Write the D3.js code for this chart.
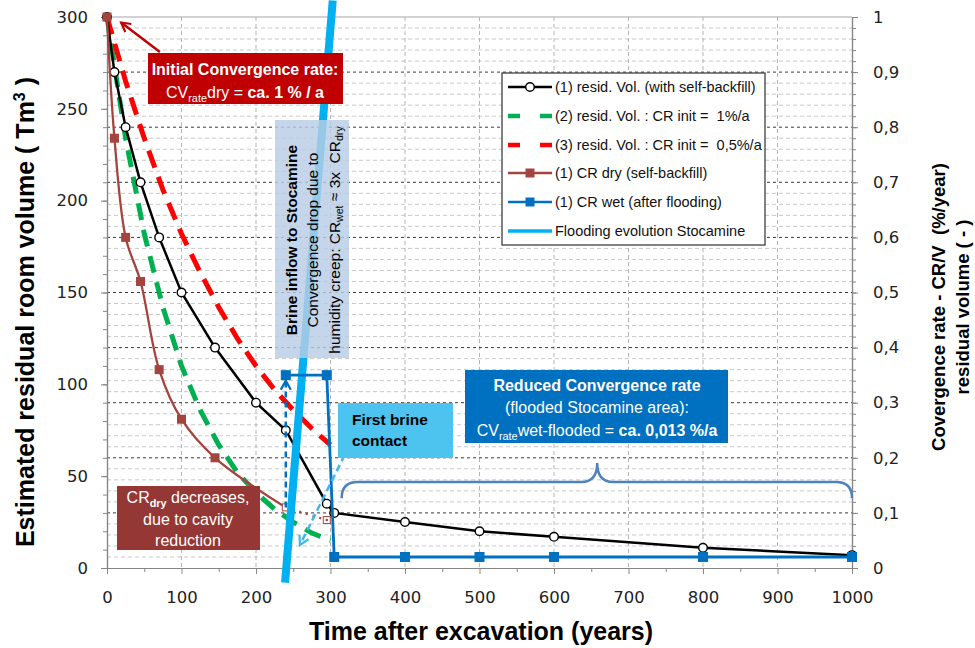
<!DOCTYPE html>
<html><head><meta charset="utf-8">
<script src="https://cdn.jsdelivr.net/npm/d3@7"></script>
<style>body{margin:0;background:#fff}svg{display:block}</style>
</head><body><svg id="c" width="975" height="648"></svg>
<script>
// ---------------- data ----------------
const xTickValues = [0,100,200,300,400,500,600,700,800,900,1000];
const leftTickValues = [0,50,100,150,200,250,300];
const rightTickValues = [0,0.1,0.2,0.3,0.4,0.5,0.6,0.7,0.8,0.9,1];
const rightTickLabels = ["0","0,1","0,2","0,3","0,4","0,5","0,6","0,7","0,8","0,9","1"];

// (1) residual volume with self-backfill (Tm3, left axis)
const volYears  = [0,10,25,45,70,100,145,200,240,295,305,400,500,600,800,1000];
const volValues = [300,270,240,210,180,150,120,90,75,35,30,25,20,17,11,7];
// (2) residual volume, CR init 1%/a (left axis)
const cr1Years  = [0,25,50,75,100,125,150,175,200,225,250,275,300];
const cr1Values = [300,234,182,142,110,86,67,52,41,32,25,19,15];
// (3) residual volume, CR init 0.5%/a (left axis)
const cr05Years  = [0,25,50,75,100,125,150,175,200,225,250,275,300];
const cr05Values = [300,265,234,206,182,161,142,125,110,97,86,76,67];
// (1) CR dry (right axis, %/year)
const crDryYears  = [0,10,25,45,70,100,145,240];
const crDryValues = [1.0,0.78,0.60,0.52,0.36,0.27,0.20,0.11];
const crDryTailYears  = [240,295];
const crDryTailValues = [0.11,0.087];
// (1) CR wet (right axis)
const crWetYears  = [240,295,305,400,500,600,800,1000];
const crWetValues = [0.35,0.35,0.02,0.02,0.02,0.02,0.02,0.02];
// Flooding evolution Stocamine (left axis units)
const floodYears  = [239,303];
const floodValues = [-8,309];

const legendLabels = [
  "(1) resid. Vol. (with self-backfill)",
  "(2) resid. Vol. : CR init =  1%/a",
  "(3) resid. Vol. : CR init =  0,5%/a",
  "(1) CR dry (self-backfill)",
  "(1) CR wet (after flooding)",
  "Flooding evolution Stocamine"
];

// ---------------- setup ----------------
const svg = d3.select("#c");
const m = {l:107, r:852, t:17, b:568};
const x  = d3.scaleLinear().domain([0,1000]).range([m.l,m.r]);
const yL = d3.scaleLinear().domain([0,300]).range([m.b,m.t]);
const yR = d3.scaleLinear().domain([0,1]).range([m.b,m.t]);
const SANS = "'Liberation Sans Narrow','Arial Narrow','Liberation Sans',Arial,sans-serif";
const TICKF = "'DejaVu Sans',sans-serif";

const C = {black:"#000", green:"#00B050", red:"#FF0000", brown:"#A5443F", blue:"#0070C0", cyan:"#00B0F0"};

const defs = svg.append("defs");
function arrowMarker(id,color){
  defs.append("marker").attr("id",id).attr("viewBox","-10 -6 12 12").attr("refX",0).attr("refY",0)
    .attr("markerWidth",12).attr("markerHeight",12).attr("markerUnits","userSpaceOnUse").attr("orient","auto")
    .append("path").attr("d","M-9,-5 L0,0 L-9,5").attr("fill","none").attr("stroke",color).attr("stroke-width",2.2);
}
arrowMarker("arRed","#C00000");
arrowMarker("arBlue",C.blue);
arrowMarker("arCyan","#3DB8EE");

// ---------------- grid ----------------
const grid = svg.append("g");
const hMinor = d3.range(1,50).map(i=>i/50).filter((d,i)=>(i+1)%5!==0);
const hMajor = d3.range(1,10).map(i=>i/10);
grid.selectAll("line.hmin").data(hMinor).join("line")
  .attr("x1",m.l).attr("x2",m.r).attr("y1",d=>yR(d)).attr("y2",d=>yR(d))
  .attr("stroke","#C8C8C8").attr("stroke-width",1).attr("stroke-dasharray","4,3");
grid.selectAll("line.vg").data(xTickValues.filter(d=>d>0&&d<1000)).join("line")
  .attr("x1",d=>x(d)).attr("x2",d=>x(d)).attr("y1",m.t).attr("y2",m.b)
  .attr("stroke","#B4B4B4").attr("stroke-width",1).attr("stroke-dasharray","4,3");
grid.selectAll("line.hmaj").data(hMajor).join("line")
  .attr("x1",m.l).attr("x2",m.r).attr("y1",d=>yR(d)).attr("y2",d=>yR(d))
  .attr("stroke","#3A3A3A").attr("stroke-width",1).attr("stroke-dasharray","3,3");
grid.append("line").attr("x1",m.l).attr("x2",m.r).attr("y1",yR(1)).attr("y2",yR(1))
  .attr("stroke","#A6A6A6").attr("stroke-width",1.2);

// ---------------- axes ----------------
function styleAxis(g){
  g.select(".domain").attr("stroke","#868686").attr("stroke-width",1.2);
  g.selectAll(".tick line").attr("stroke","#868686");
  g.selectAll(".tick text").attr("font-family",TICKF).attr("font-size",16.5).attr("fill","#222");
}
const axL = svg.append("g").attr("transform",`translate(${m.l},0)`)
  .call(d3.axisLeft(yL).tickValues(leftTickValues).tickSize(6).tickPadding(13).tickSizeOuter(0).tickFormat(d=>String(d)));
styleAxis(axL);
const axLm = svg.append("g").attr("transform",`translate(${m.l},0)`)
  .call(d3.axisLeft(yL).tickValues(d3.range(0,301,10)).tickSize(4).tickFormat("").tickSizeOuter(0));
styleAxis(axLm);
const axB = svg.append("g").attr("transform",`translate(0,${m.b})`)
  .call(d3.axisBottom(x).tickValues(xTickValues).tickSize(6).tickPadding(17).tickSizeOuter(0).tickFormat(d=>String(d)));
styleAxis(axB);
const axBm = svg.append("g").attr("transform",`translate(0,${m.b})`)
  .call(d3.axisBottom(x).tickValues(d3.range(50,1000,100)).tickSize(4).tickFormat("").tickSizeOuter(0));
styleAxis(axBm);
const axR = svg.append("g").attr("transform",`translate(${m.r},0)`)
  .call(d3.axisRight(yR).tickValues(rightTickValues).tickSize(6).tickPadding(15).tickSizeOuter(0)
    .tickFormat((d,i)=>rightTickLabels[i]));
styleAxis(axR);
const axRm = svg.append("g").attr("transform",`translate(${m.r},0)`)
  .call(d3.axisRight(yR).tickValues(d3.range(0,51).map(i=>i/50)).tickSize(4).tickFormat("").tickSizeOuter(0));
styleAxis(axRm);

// axis titles
const yt = svg.append("text").attr("transform","translate(34,312) rotate(-90)").attr("text-anchor","middle")
  .attr("font-family",SANS).attr("font-weight","bold").attr("font-size",25);
yt.append("tspan").text("Estimated residual room volume ( Tm");
yt.append("tspan").attr("font-size",16).attr("dy",-9).text("3");
yt.append("tspan").attr("dy",9).text(" )");
svg.append("text").attr("x",481).attr("y",640).attr("text-anchor","middle")
  .attr("font-family",SANS).attr("font-weight","bold").attr("font-size",25)
  .text("Time after excavation (years)");
const rt = svg.append("g").attr("transform","translate(0,307) rotate(-90)");
rt.append("text").attr("x",0).attr("y",945).attr("text-anchor","middle")
  .attr("font-family",SANS).attr("font-weight","bold").attr("font-size",18.5)
  .attr("xml:space","preserve").text("Covergence rate - CR/V  (%/year)");
rt.append("text").attr("x",0).attr("y",969).attr("text-anchor","middle")
  .attr("font-family",SANS).attr("font-weight","bold").attr("font-size",18.5)
  .text("residual volume ( - )");

// ---------------- series ----------------
const lineL = d3.line().x(d=>x(d[0])).y(d=>yL(d[1]));
const lineRs = d3.line().x(d=>x(d[0])).y(d=>yR(d[1])).curve(d3.curveCatmullRom.alpha(0.5));
const lineR = d3.line().x(d=>x(d[0])).y(d=>yR(d[1]));
const plot = svg.append("g");

plot.append("path").datum(d3.zip(cr1Years,cr1Values)).attr("d",lineL)
  .attr("fill","none").attr("stroke",C.green).attr("stroke-width",5).attr("stroke-dasharray","17,10");
plot.append("path").datum(d3.zip(cr05Years,cr05Values)).attr("d",lineL)
  .attr("fill","none").attr("stroke",C.red).attr("stroke-width",5).attr("stroke-dasharray","18,10");

plot.append("path").datum(d3.zip(volYears,volValues)).attr("d",lineL)
  .attr("fill","none").attr("stroke",C.black).attr("stroke-width",2.5);
plot.selectAll("circle.vol").data(d3.zip(volYears,volValues)).join("circle")
  .attr("cx",d=>x(d[0])).attr("cy",d=>yL(d[1])).attr("r",4.3)
  .attr("fill","#fff").attr("stroke","#000").attr("stroke-width",1.4);

plot.append("path").datum(d3.zip(crDryYears,crDryValues)).attr("d",lineRs)
  .attr("fill","none").attr("stroke",C.brown).attr("stroke-width",2.3);
plot.append("path").datum(d3.zip(crDryTailYears,crDryTailValues)).attr("d",lineR)
  .attr("fill","none").attr("stroke",C.brown).attr("stroke-width",2.3).attr("stroke-dasharray","2,5");
plot.selectAll("rect.dry").data(d3.zip(crDryYears,crDryValues).slice(0,-1)).join("rect")
  .attr("x",d=>x(d[0])-4.5).attr("y",d=>yR(d[1])-4.5).attr("width",9).attr("height",9).attr("fill",C.brown);
plot.selectAll("rect.dryt").data(d3.zip(crDryTailYears,crDryTailValues)).join("rect")
  .attr("x",d=>x(d[0])-3.5).attr("y",d=>yR(d[1])-3.5).attr("width",7).attr("height",7)
  .attr("fill","#fff").attr("stroke",C.brown).attr("stroke-width",1);
plot.append("circle").datum([crDryTailYears[1],crDryTailValues[1]])
  .attr("cx",d=>x(d[0])).attr("cy",d=>yR(d[1])).attr("r",1.3).attr("fill",C.brown);

// flooding line
plot.append("path").datum(d3.zip(floodYears,floodValues)).attr("d",lineL)
  .attr("fill","none").attr("stroke",C.cyan).attr("stroke-width",8);

plot.append("path").datum(d3.zip(crWetYears,crWetValues)).attr("d",lineR)
  .attr("fill","none").attr("stroke",C.blue).attr("stroke-width",2.8);
plot.selectAll("rect.wet").data(d3.zip(crWetYears,crWetValues)).join("rect")
  .attr("x",d=>x(d[0])-5).attr("y",d=>yR(d[1])-5).attr("width",10).attr("height",10).attr("fill",C.blue);

// ---------------- annotations ----------------
const ann = svg.append("g");
ann.append("line").attr("x1",x(240)).attr("y1",yR(0.11)).attr("x2",x(240)).attr("y2",yR(0.34))
  .attr("stroke",C.blue).attr("stroke-width",2.5).attr("stroke-dasharray","6,4").attr("marker-end","url(#arBlue)");
ann.append("line").attr("x1",x(319)).attr("y1",yL(61.5)).attr("x2",x(259)).attr("y2",yL(12.5))
  .attr("stroke","#3DB8EE").attr("stroke-width",2.5).attr("stroke-dasharray","7,4").attr("marker-end","url(#arCyan)");
ann.append("line").attr("x1",x(71)).attr("y1",yL(281)).attr("x2",x(19)).attr("y2",yL(297))
  .attr("stroke","#C00000").attr("stroke-width",2.5).attr("marker-end","url(#arRed)");

// brace
(function(){
  const x0=x(315), x1=x(1000), xc=x(658);
  const yb=yL(38), yf=yL(46.8), yp=yL(57.2), r=16;
  const p = `M${x0},${yb} Q${x0},${yf} ${x0+r},${yf} L${xc-r},${yf} Q${xc},${yf} ${xc},${yp} Q${xc},${yf} ${xc+r},${yf} L${x1-r},${yf} Q${x1},${yf} ${x1},${yb}`;
  ann.append("path").attr("d",p).attr("fill","none").attr("stroke","#4F81BD").attr("stroke-width",2.5);
})();

function rich(g, xx, yy, parts, size, color, anchor){
  const t = g.append("text").attr("x",xx).attr("y",yy).attr("font-family",SANS).attr("font-size",size)
    .attr("fill",color).attr("text-anchor",anchor||"middle").attr("xml:space","preserve");
  let sub=false;
  parts.forEach(p=>{
    const s = t.append("tspan").text(p.t);
    if(p.b) s.attr("font-weight","bold");
    if(p.sub){ s.attr("font-size",size*0.68).attr("dy",size*0.22); sub=true; }
    else if(sub){ s.attr("dy",-size*0.22); sub=false; }
  });
  return t;
}

// red box
ann.append("rect").attr("x",148).attr("y",53).attr("width",195).attr("height",51).attr("fill","#C00000");
rich(ann,245,75,[{t:"Initial Convergence rate:",b:true}],16,"#fff");
rich(ann,245,98,[{t:"CV"},{t:"rate",sub:true},{t:"dry = "},{t:"ca. 1 % / a",b:true}],16,"#fff");

// brine inflow (rotated) box
ann.append("rect").attr("x",275).attr("y",120).attr("width",74).attr("height",238).attr("fill","#B9CDE5").attr("opacity",0.82);
const rb = ann.append("g").attr("transform","translate(312,240) rotate(-90)");
rich(rb,0,-15,[{t:"Brine inflow to Stocamine",b:true}],15.5,"#000");
rich(rb,0,6,[{t:"Convergence drop due to"}],15.5,"#000");
rich(rb,0,28,[{t:"humidity creep: CR"},{t:"wet",sub:true},{t:" ≈ 3x  CR"},{t:"dry",sub:true}],15.5,"#000");

// brown box
ann.append("rect").attr("x",117).attr("y",486).attr("width",143).attr("height",64).attr("fill","#953735");
rich(ann,188,503,[{t:"CR"},{t:"dry",sub:true,b:true},{t:" decreases,"}],16,"#fff");
rich(ann,188,525,[{t:"due to cavity"}],16,"#fff");
rich(ann,188,546,[{t:"reduction"}],16,"#fff");

// first brine contact
ann.append("rect").attr("x",338).attr("y",403).attr("width",115).attr("height",55).attr("fill","#4DC3F0");
rich(ann,352,425,[{t:"First brine",b:true}],15.5,"#000","start");
rich(ann,352,446,[{t:"contact",b:true}],15.5,"#000","start");

// reduced convergence box
ann.append("rect").attr("x",465).attr("y",370).attr("width",263).attr("height",73).attr("fill","#0070C0");
rich(ann,597,391,[{t:"Reduced Convergence rate",b:true}],16,"#fff");
rich(ann,597,413,[{t:"(flooded Stocamine area):"}],16,"#fff");
rich(ann,597,436,[{t:"CV"},{t:"rate",sub:true},{t:"wet-flooded = "},{t:"ca. 0,013",b:true},{t:" %/a",b:true}],16,"#fff");

// ---------------- legend ----------------
const lg = svg.append("g");
lg.append("rect").attr("x",502).attr("y",73).attr("width",263).attr("height",172)
  .attr("fill","#fff").attr("stroke","#404040").attr("stroke-width",1.3);
const ly = [87,116,145,173,202,231];
const lx0=508, lx1=552, lxm=530;
lg.append("line").attr("x1",lx0).attr("x2",lx1).attr("y1",ly[0]).attr("y2",ly[0]).attr("stroke","#000").attr("stroke-width",2.5);
lg.append("circle").attr("cx",lxm).attr("cy",ly[0]).attr("r",4.3).attr("fill","#fff").attr("stroke","#000").attr("stroke-width",1.4);
lg.append("line").attr("x1",lx0).attr("x2",lx1).attr("y1",ly[1]).attr("y2",ly[1]).attr("stroke",C.green).attr("stroke-width",4.5).attr("stroke-dasharray","12,20");
lg.append("line").attr("x1",lx0).attr("x2",lx1).attr("y1",ly[2]).attr("y2",ly[2]).attr("stroke",C.red).attr("stroke-width",4.5).attr("stroke-dasharray","12,20");
lg.append("line").attr("x1",lx0).attr("x2",lx1).attr("y1",ly[3]).attr("y2",ly[3]).attr("stroke",C.brown).attr("stroke-width",2.5);
lg.append("rect").attr("x",lxm-4.5).attr("y",ly[3]-4.5).attr("width",9).attr("height",9).attr("fill",C.brown);
lg.append("line").attr("x1",lx0).attr("x2",lx1).attr("y1",ly[4]).attr("y2",ly[4]).attr("stroke",C.blue).attr("stroke-width",2.5);
lg.append("rect").attr("x",lxm-4.5).attr("y",ly[4]-4.5).attr("width",9).attr("height",9).attr("fill",C.blue);
lg.append("line").attr("x1",lx0).attr("x2",lx1).attr("y1",ly[5]).attr("y2",ly[5]).attr("stroke",C.cyan).attr("stroke-width",3.5);
lg.selectAll("text.li").data(legendLabels).join("text")
  .attr("x",555).attr("y",(d,i)=>ly[i]+5).attr("font-family",SANS).attr("font-size",14.5).attr("fill","#111")
  .attr("xml:space","preserve").text(d=>d);
</script></body></html>
